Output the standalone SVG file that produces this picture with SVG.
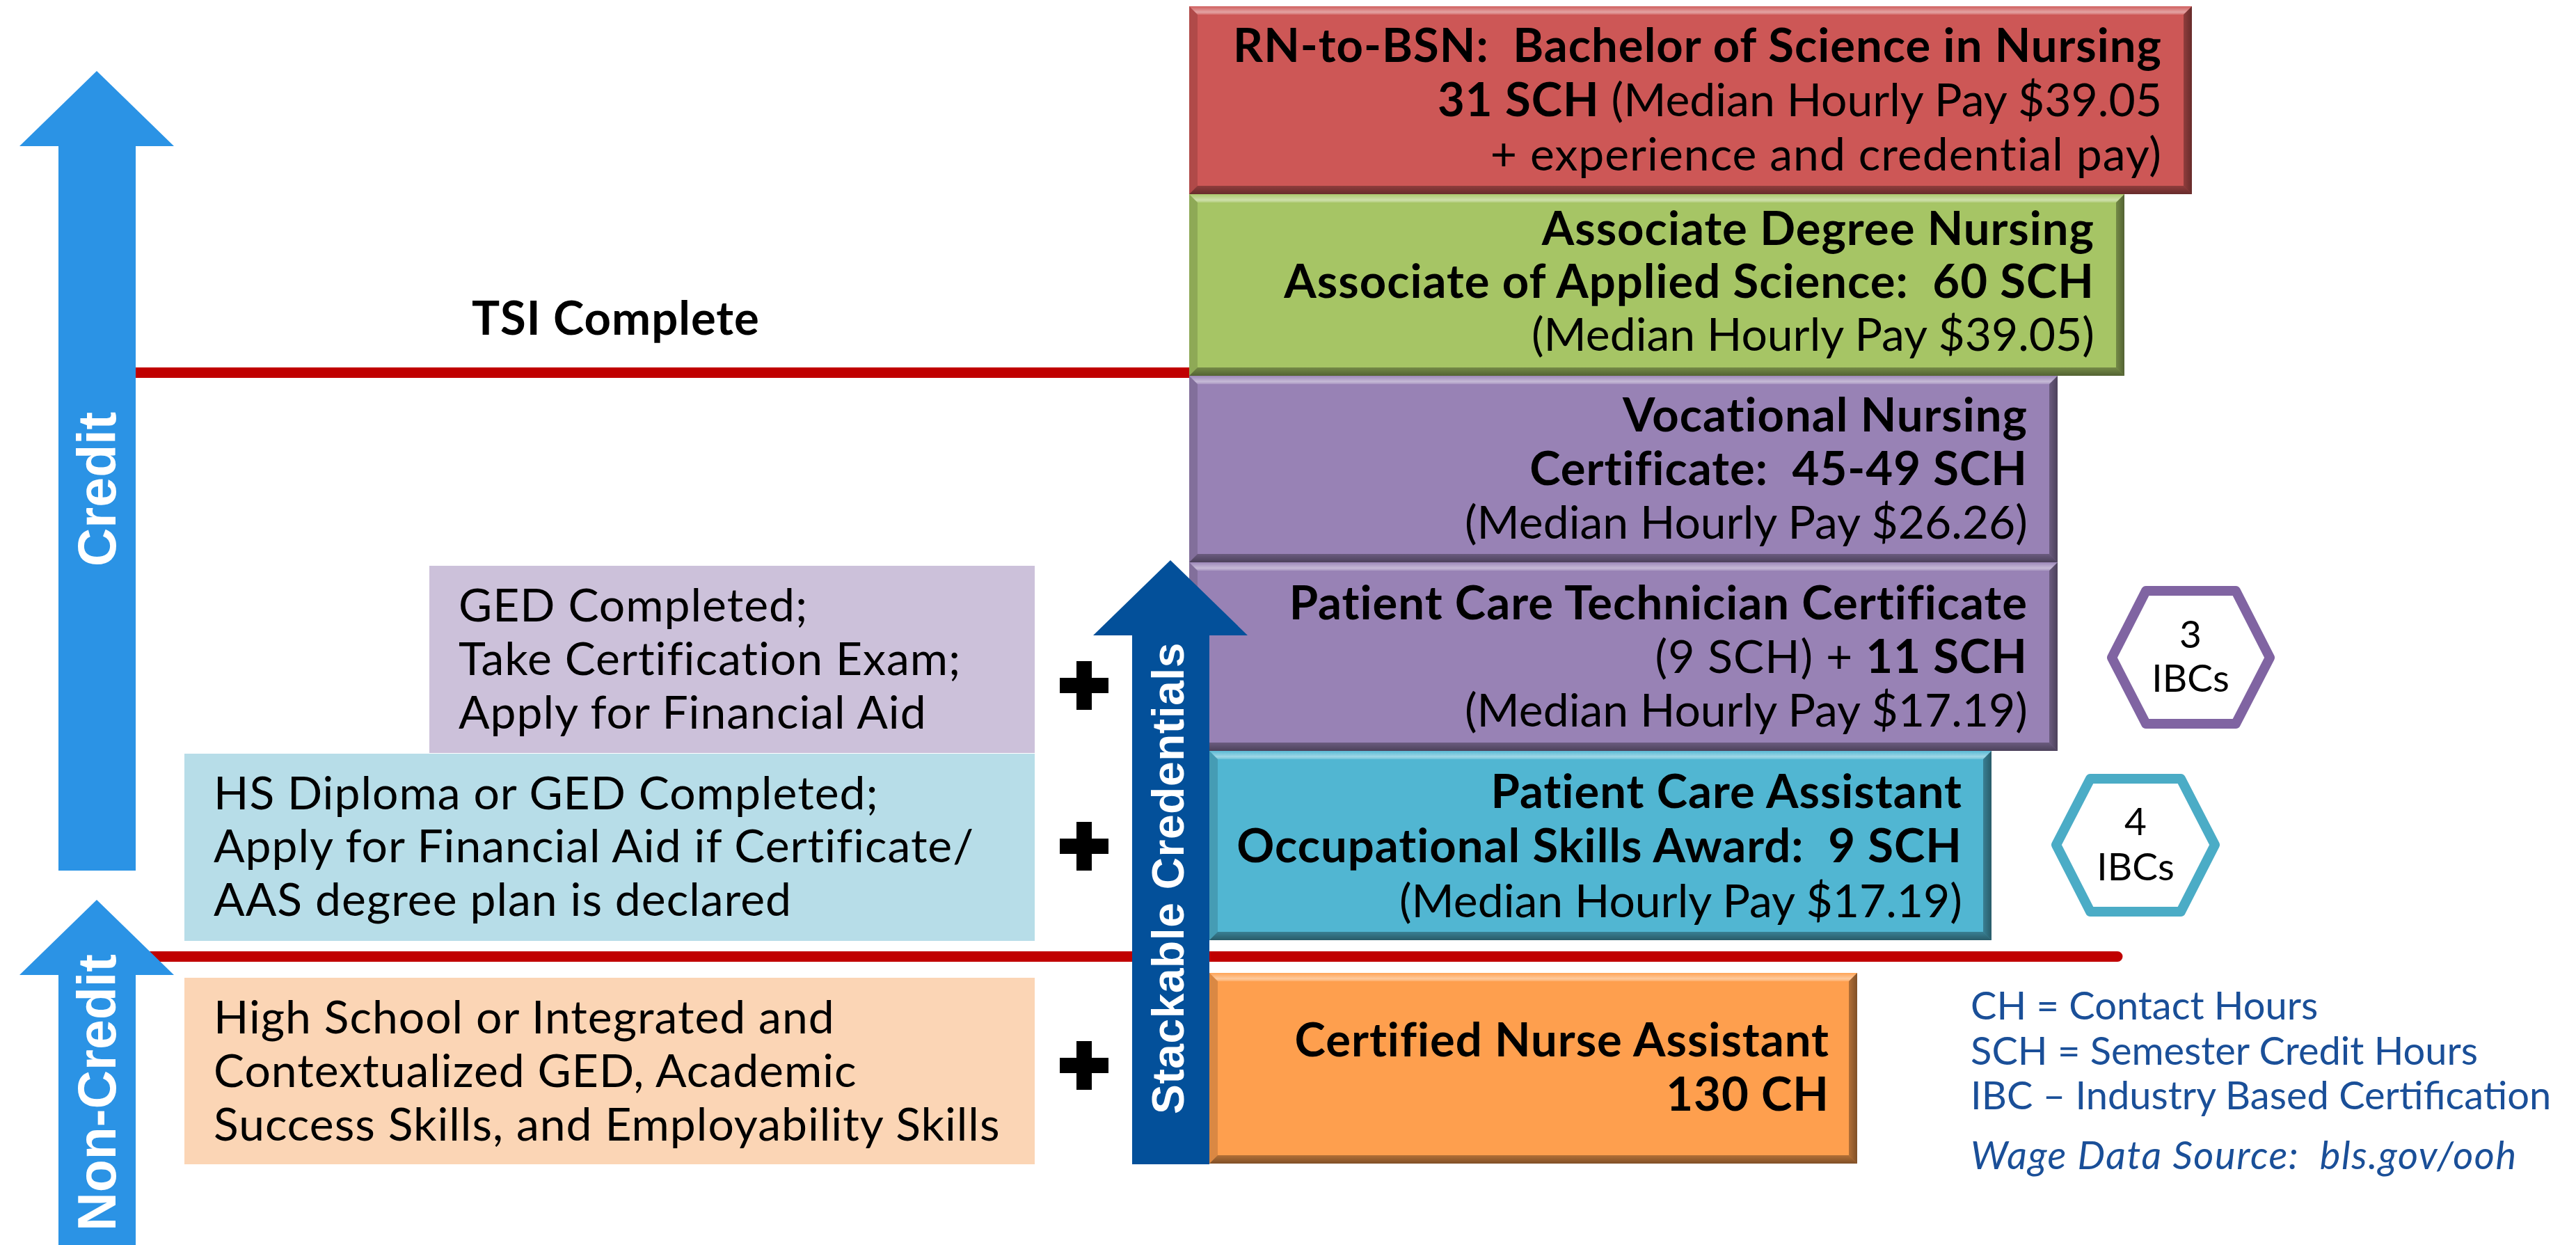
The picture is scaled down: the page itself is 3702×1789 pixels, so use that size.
<svg xmlns="http://www.w3.org/2000/svg" width="3702" height="1789" viewBox="0 0 3702 1789">
<defs>
<style>
.t{font-family:Lato,'Liberation Sans',Arial,sans-serif;font-size:66px;letter-spacing:1px;fill:#000}
.b{font-weight:700;font-size:67px}
.ns{letter-spacing:0}
.e{text-anchor:end}
.m{text-anchor:middle}
.rot{font-family:'Liberation Sans',Arial,sans-serif;font-weight:700;fill:#fff;text-anchor:middle}
.hx{fill:#fff;stroke-width:14;stroke-linejoin:round}
.hxt{font-family:Lato,'Liberation Sans',Arial,sans-serif;font-size:55px;fill:#000;text-anchor:middle}
.lg{font-family:Lato,'Liberation Sans',Arial,sans-serif;font-size:56px;fill:#1A4F98}
.red{fill:#C00000}
.bT{fill:url(#gT)}
.bB{fill:url(#gB)}
.bR{fill:url(#gR)}
.bL{fill:#000;fill-opacity:0.14}
</style>
<linearGradient id="gT" x1="0" y1="0" x2="0" y2="1">
<stop offset="0" stop-color="#fff" stop-opacity="0.05"/>
<stop offset="0.7" stop-color="#fff" stop-opacity="0.45"/>
<stop offset="1" stop-color="#fff" stop-opacity="0.15"/>
</linearGradient>
<linearGradient id="gB" x1="0" y1="0" x2="0" y2="1">
<stop offset="0" stop-color="#000" stop-opacity="0.3"/>
<stop offset="1" stop-color="#000" stop-opacity="0.5"/>
</linearGradient>
<linearGradient id="gR" x1="0" y1="0" x2="1" y2="0">
<stop offset="0" stop-color="#000" stop-opacity="0.3"/>
<stop offset="1" stop-color="#000" stop-opacity="0.5"/>
</linearGradient>
</defs>
<rect width="3702" height="1789" fill="#fff"/>

<g id="connectors">
<rect class="red" x="190" y="528" width="1525" height="15"/>
<path d="M150 1367 H3043 a7.5 7.5 0 0 1 0 15 H150 Z" class="red"/>
</g>

<g id="credit-arrow">
<polygon points="139,102 250,210 195,210 195,1251 84,1251 84,210 28,210" fill="#2B93E5"/>
<text class="rot" font-size="77" transform="translate(166,703) rotate(-90)">Credit</text>
</g>

<g id="noncredit-arrow">
<polygon points="139,1293 250,1401 195,1401 195,1789 84,1789 84,1401 28,1401" fill="#2B93E5"/>
<text class="rot" font-size="77" transform="translate(166,1570) rotate(-90)">Non-Credit</text>
</g>

<g id="tsi-label">
<text class="t b" x="678" y="481">TSI Complete</text>
</g>

<g id="ged-box">
<rect x="617" y="813" width="870" height="269" fill="#CCC1DA"/>
<text class="t" x="659" y="893">GED Completed;</text>
<text class="t" x="659" y="970">Take Certification Exam;</text>
<text class="t" x="659" y="1047">Apply for Financial Aid</text>
</g>

<g id="hs-box">
<rect x="265" y="1083" width="1222" height="269" fill="#B7DDE8"/>
<text class="t" x="307" y="1163">HS Diploma or GED Completed;</text>
<text class="t" x="307" y="1239">Apply for Financial Aid if Certificate/</text>
<text class="t" x="307" y="1316">AAS degree plan is declared</text>
</g>

<g id="basic-box">
<rect x="265" y="1405" width="1222" height="268" fill="#FBD5B5"/>
<text class="t" x="307" y="1485">High School or Integrated and</text>
<text class="t" x="307" y="1562">Contextualized GED, Academic</text>
<text class="t" x="307" y="1639">Success Skills, and Employability Skills</text>
</g>

<g id="plus-signs">
<path d="M1547 950h22v24h24v22h-24v24h-22v-24h-24v-22h24z"/>
<path d="M1547 1181h22v24h24v22h-24v24h-22v-24h-24v-22h24z"/>
<path d="M1547 1496h22v24h24v22h-24v24h-22v-24h-24v-22h24z"/>
</g>

<g id="rn-bsn">
<rect x="1709" y="9" width="1441" height="270" fill="#CD5756"/>
<polygon class="bT" points="1709,9 3150,9 3138,21 1721,21"/>
<polygon class="bL" points="1709,9 1721,21 1721,267 1709,279"/>
<polygon class="bR" points="3150,9 3150,279 3138,267 3138,21"/>
<polygon class="bB" points="1709,279 3150,279 3138,267 1721,267"/>
<text class="t b e" x="3107" y="89" xml:space="preserve">RN-to-BSN:  Bachelor of Science in Nursing</text>
<text class="t e ns" x="3107" y="167" xml:space="preserve"><tspan class="b" letter-spacing="1">31 SCH</tspan> (Median Hourly Pay $39.05</text>
<text class="t e" x="3107" y="245">+ experience and credential pay)</text>
</g>

<g id="adn">
<rect x="1709" y="279" width="1344" height="261" fill="#A6C565"/>
<polygon class="bT" points="1709,279 3053,279 3041,291 1721,291"/>
<polygon class="bL" points="1709,279 1721,291 1721,528 1709,540"/>
<polygon class="bR" points="3053,279 3053,540 3041,528 3041,291"/>
<polygon class="bB" points="1709,540 3053,540 3041,528 1721,528"/>
<text class="t b e" x="3010" y="352">Associate Degree Nursing</text>
<text class="t b e" x="3010" y="428" xml:space="preserve">Associate of Applied Science:  60 SCH</text>
<text class="t e ns" x="3010" y="504">(Median Hourly Pay $39.05)</text>
</g>

<g id="vn">
<rect x="1709" y="540" width="1248" height="268" fill="#9882B5"/>
<polygon class="bT" points="1709,540 2957,540 2945,552 1721,552"/>
<polygon class="bL" points="1709,540 1721,552 1721,796 1709,808"/>
<polygon class="bR" points="2957,540 2957,808 2945,796 2945,552"/>
<polygon class="bB" points="1709,808 2957,808 2945,796 1721,796"/>
<text class="t b e" x="2914" y="620">Vocational Nursing</text>
<text class="t b e" x="2914" y="697" xml:space="preserve">Certificate:  45-49 SCH</text>
<text class="t e ns" x="2914" y="774">(Median Hourly Pay $26.26)</text>
</g>

<g id="pct">
<rect x="1709" y="808" width="1248" height="271" fill="#9882B5"/>
<polygon class="bT" points="1709,808 2957,808 2945,820 1721,820"/>
<polygon class="bL" points="1709,808 1721,820 1721,1067 1709,1079"/>
<polygon class="bR" points="2957,808 2957,1079 2945,1067 2945,820"/>
<polygon class="bB" points="1709,1079 2957,1079 2945,1067 1721,1067"/>
<text class="t b e" x="2914" y="890">Patient Care Technician Certificate</text>
<text class="t e" x="2914" y="967">(9 SCH) + <tspan class="b">11 SCH</tspan></text>
<text class="t e ns" x="2914" y="1044">(Median Hourly Pay $17.19)</text>
</g>

<g id="pca">
<rect x="1738" y="1079" width="1124" height="272" fill="#51B6D2"/>
<polygon class="bT" points="1738,1079 2862,1079 2850,1091 1750,1091"/>
<polygon class="bL" points="1738,1079 1750,1091 1750,1339 1738,1351"/>
<polygon class="bR" points="2862,1079 2862,1351 2850,1339 2850,1091"/>
<polygon class="bB" points="1738,1351 2862,1351 2850,1339 1750,1339"/>
<text class="t b e" x="2820" y="1161">Patient Care Assistant</text>
<text class="t b e" x="2820" y="1239" xml:space="preserve">Occupational Skills Award:  9 SCH</text>
<text class="t e ns" x="2820" y="1318">(Median Hourly Pay $17.19)</text>
</g>

<g id="cna">
<rect x="1738" y="1398" width="931" height="274" fill="#FE9F4E"/>
<polygon class="bT" points="1738,1398 2669,1398 2657,1410 1750,1410"/>
<polygon class="bL" points="1738,1398 1750,1410 1750,1660 1738,1672"/>
<polygon class="bR" points="2669,1398 2669,1672 2657,1660 2657,1410"/>
<polygon class="bB" points="1738,1672 2669,1672 2657,1660 1750,1660"/>
<text class="t b e" x="2629" y="1518">Certified Nurse Assistant</text>
<text class="t b e" x="2629" y="1596">130 CH</text>
</g>

<g id="stackable-arrow">
<polygon points="1682,805 1793,913 1738,913 1738,1673 1627,1673 1627,913 1571,913" fill="#03509A"/>
<text class="rot" font-size="64" transform="translate(1701,1262) rotate(-90)" letter-spacing="0.6">Stackable Credentials</text>
</g>

<g id="ibc3">
<polygon class="hx" stroke="#8064A2" points="3035,945 3084,849 3213,849 3262,945 3213,1040 3084,1040"/>
<text class="hxt" x="3148" y="931">3</text>
<text class="hxt" x="3148" y="994">IBCs</text>
</g>

<g id="ibc4">
<polygon class="hx" stroke="#4BACC6" points="2955,1214 3004,1119 3134,1119 3183,1214 3134,1310 3004,1310"/>
<text class="hxt" x="3069" y="1200">4</text>
<text class="hxt" x="3069" y="1265">IBCs</text>
</g>

<g id="legend">
<text class="lg" x="2832" y="1465">CH = Contact Hours</text>
<text class="lg" x="2832" y="1530">SCH = Semester Credit Hours</text>
<text class="lg" x="2832" y="1594">IBC – Industry Based Certification</text>
<text class="lg" x="2832" y="1680" font-style="italic" letter-spacing="1.6" xml:space="preserve">Wage Data Source:  bls.gov/ooh</text>
</g>
</svg>
